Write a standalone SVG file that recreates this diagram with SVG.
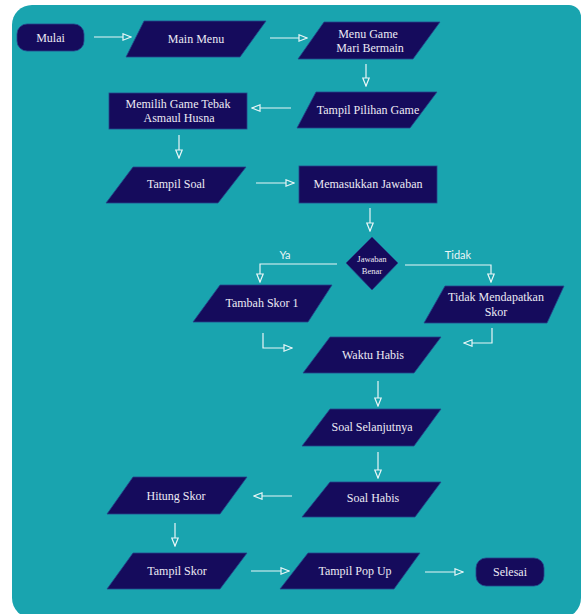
<svg xmlns="http://www.w3.org/2000/svg" width="583" height="614" viewBox="0 0 583 614">
<defs>
<style>
.node{fill:#150B5C;stroke:#25458a;stroke-width:0.8}
.t{font-family:'Liberation Serif','DejaVu Serif',serif;font-size:12px;fill:#ECEAF4;text-anchor:middle}
.ts{font-family:'Liberation Serif','DejaVu Serif',serif;font-size:8.5px;fill:#ECEAF4;text-anchor:middle}
.lbl{font-family:Lato,'Liberation Sans',sans-serif;font-size:11px;fill:#EAF6F7;text-anchor:middle}
.c{fill:none;stroke:#EAF6F7;stroke-width:1.2;marker-end:url(#ah)}
</style>
<marker id="ah" markerUnits="userSpaceOnUse" markerWidth="10" markerHeight="9" refX="9" refY="4" orient="auto" viewBox="0 0 10 9">
<path d="M1,0.8 L9,4 L1,7.2 Z" fill="#19A4AF" stroke="#EAF6F7" stroke-width="1.2"/>
</marker>
</defs>
<rect x="0" y="0" width="583" height="614" fill="#ffffff"/>
<path d="M32,5 H569 A12,12 0 0 1 581,17 V598 A20,20 0 0 1 561,618 H32 A20,20 0 0 1 12,598 V25 A20,20 0 0 1 32,5 Z" fill="#19A4AF"/>

<g id="connectors">
<line class="c" x1="94" y1="37" x2="131" y2="37"/>
<line class="c" x1="270" y1="38" x2="307" y2="38"/>
<line class="c" x1="366" y1="64" x2="366" y2="86"/>
<line class="c" x1="291" y1="108" x2="252" y2="108"/>
<line class="c" x1="179" y1="135" x2="179" y2="158"/>
<line class="c" x1="256" y1="183" x2="294" y2="183"/>
<line class="c" x1="370" y1="208" x2="370" y2="231"/>
<polyline class="c" points="337,264 260,264 260,282"/>
<polyline class="c" points="405,265 491,265 491,282"/>
<polyline class="c" points="263,333 263,348 292,348"/>
<polyline class="c" points="492,328 492,343 464,343"/>
<line class="c" x1="378" y1="381" x2="378" y2="406"/>
<line class="c" x1="378" y1="452" x2="378" y2="478"/>
<line class="c" x1="292" y1="496" x2="254" y2="496"/>
<line class="c" x1="175" y1="523" x2="175" y2="546"/>
<line class="c" x1="251" y1="571" x2="289" y2="571"/>
<line class="c" x1="425" y1="572" x2="463" y2="572"/>
<text class="lbl" x="285" y="259">Ya</text>
<text class="lbl" x="458" y="259">Tidak</text>
</g>

<g id="mulai">
<rect class="node" x="17" y="24" width="67" height="27" rx="10"/>
<text class="t" x="50.5" y="42">Mulai</text>
</g>
<g id="main-menu">
<polygon class="node" points="144,21 266,21 240,57 126,57"/>
<text class="t" x="196" y="43">Main Menu</text>
</g>
<g id="menu-game">
<polygon class="node" points="324,22 440,22 413,59 298,59"/>
<text class="t" x="368" y="38">Menu Game</text>
<text class="t" x="370" y="52">Mari Bermain</text>
</g>
<g id="tampil-pilihan-game">
<polygon class="node" points="316,92 437,92 410,128 297,128"/>
<text class="t" x="368" y="114">Tampil Pilihan Game</text>
</g>
<g id="memilih-game">
<rect class="node" x="109" y="93" width="138" height="36"/>
<text class="t" x="178" y="108">Memilih Game Tebak</text>
<text class="t" x="179" y="122">Asmaul Husna</text>
</g>
<g id="tampil-soal">
<polygon class="node" points="133,167 246,167 218,203 106,203"/>
<text class="t" x="176" y="188">Tampil Soal</text>
</g>
<g id="memasukkan-jawaban">
<rect class="node" x="299" y="166" width="138" height="37"/>
<text class="t" x="368" y="188">Memasukkan Jawaban</text>
</g>
<g id="jawaban-benar">
<polygon class="node" points="372,237 398,263 372,290 346,263"/>
<text class="ts" x="372" y="262">Jawaban</text>
<text class="ts" x="372" y="274">Benar</text>
</g>
<g id="tambah-skor">
<polygon class="node" points="220,285 332,285 308,322 193,322"/>
<text class="t" x="262" y="307">Tambah Skor 1</text>
</g>
<g id="tidak-mendapatkan-skor">
<polygon class="node" points="445,286 564,286 547,323 424,323"/>
<text class="t" x="496" y="301">Tidak Mendapatkan</text>
<text class="t" x="496" y="316">Skor</text>
</g>
<g id="waktu-habis">
<polygon class="node" points="330,337 441,337 414,373 303,373"/>
<text class="t" x="373" y="359">Waktu Habis</text>
</g>
<g id="soal-selanjutnya">
<polygon class="node" points="330,409 441,409 414,446 302,446"/>
<text class="t" x="372" y="431">Soal Selanjutnya</text>
</g>
<g id="soal-habis">
<polygon class="node" points="330,482 441,482 415,517 302,517"/>
<text class="t" x="373" y="502">Soal Habis</text>
</g>
<g id="hitung-skor">
<polygon class="node" points="133,477 247,477 220,514 107,514"/>
<text class="t" x="176" y="500">Hitung Skor</text>
</g>
<g id="tampil-skor">
<polygon class="node" points="133,553 247,553 220,589 107,589"/>
<text class="t" x="177" y="575">Tampil Skor</text>
</g>
<g id="tampil-pop-up">
<polygon class="node" points="308,553 420,553 394,589 280,589"/>
<text class="t" x="355" y="575">Tampil Pop Up</text>
</g>
<g id="selesai">
<rect class="node" x="476" y="558" width="68" height="28" rx="10"/>
<text class="t" x="510" y="576">Selesai</text>
</g>
</svg>
